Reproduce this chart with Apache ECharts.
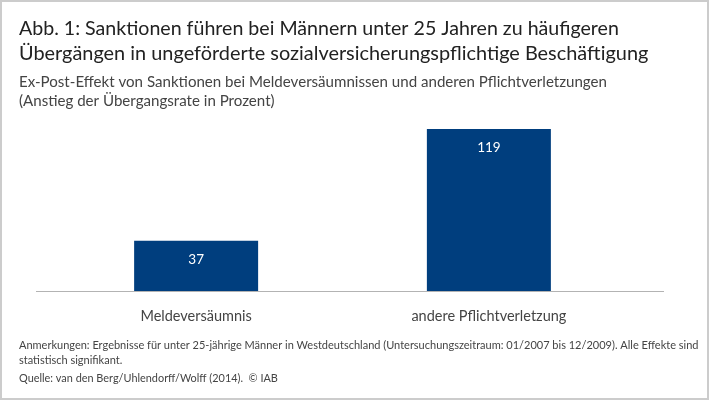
<!DOCTYPE html>
<html>
<head>
<meta charset="utf-8">
<style>html,body{margin:0;padding:0;background:#fff}#chart{width:710px;height:403px}</style>
<script src="https://cdn.jsdelivr.net/npm/echarts@6/dist/echarts.min.js"></script>
</head>
<body>
<div id="chart"></div>
<script>
var categories = ['Meldeversäumnis', 'andere Pflichtverletzung'];
var values = [37, 119];
var titleLines = [
    'Abb. 1: Sanktionen führen bei Männern unter 25 Jahren zu häufigeren',
    'Übergängen in ungeförderte sozialversicherungspflichtige Beschäftigung'
];
var subtitleLines = [
    'Ex-Post-Effekt von Sanktionen bei Meldeversäumnissen und anderen Pflichtverletzungen',
    '(Anstieg der Übergangsrate in Prozent)'
];
var noteLines = [
    'Anmerkungen: Ergebnisse für unter 25-jährige Männer in Westdeutschland (Untersuchungszeitraum: 01/2007 bis 12/2009). Alle Effekte sind',
    'statistisch signifikant.'
];
var sourceLine = 'Quelle: van den Berg/Uhlendorff/Wolff (2014).  © IAB';

var font = 'Lato';
var myChart = echarts.init(document.getElementById('chart'), null, {renderer: 'canvas'});

function textBlock(text, top, size, lineHeight, color) {
    return {
        text: text, left: 19, top: top, padding: 0,
        textStyle: {fontFamily: font, fontSize: size, lineHeight: lineHeight, fontWeight: 'normal', color: color}
    };
}

var option = {
    animation: false,
    backgroundColor: '#fff',
    title: [
        textBlock(titleLines[0], 16, 19.6, 25, '#222'),
        textBlock(titleLines[1], 41, 19.9, 25, '#222'),
        textBlock(subtitleLines.join('\n'), 72, 15.1, 19.5, '#444'),
        textBlock(noteLines.join('\n'), 338, 11, 15, '#444'),
        textBlock(sourceLine, 370, 10.9, 16, '#444')
    ],
    grid: {left: 49.75, width: 585.5, top: 129, height: 162},
    xAxis: {
        type: 'category',
        data: categories,
        axisLine: {show: false},
        axisTick: {show: false},
        axisLabel: {fontFamily: font, fontSize: 14.5, color: '#444', margin: 18}
    },
    yAxis: {type: 'value', min: 0, max: 119, show: false, splitLine: {show: false}},
    series: [{
        type: 'bar',
        data: values,
        barWidth: 124,
        itemStyle: {color: '#003e7e'},
        label: {show: true, position: 'insideTop', distance: 12, color: '#fff', fontFamily: font, fontSize: 13.5}
    }],
    graphic: [
        // frame round the picture
        {type: 'rect', shape: {x: 1, y: 1, width: 707, height: 398}, style: {fill: 'none', stroke: '#ccc', lineWidth: 2}},
        // baseline is wider than the category bands
        {type: 'line', shape: {x1: 36, y1: 291.5, x2: 664, y2: 291.5}, style: {stroke: '#b3b3b3', lineWidth: 1}}
    ]
};
myChart.setOption(option);
window.addEventListener('resize', function () {myChart.resize();});
</script>
</body>
</html>
